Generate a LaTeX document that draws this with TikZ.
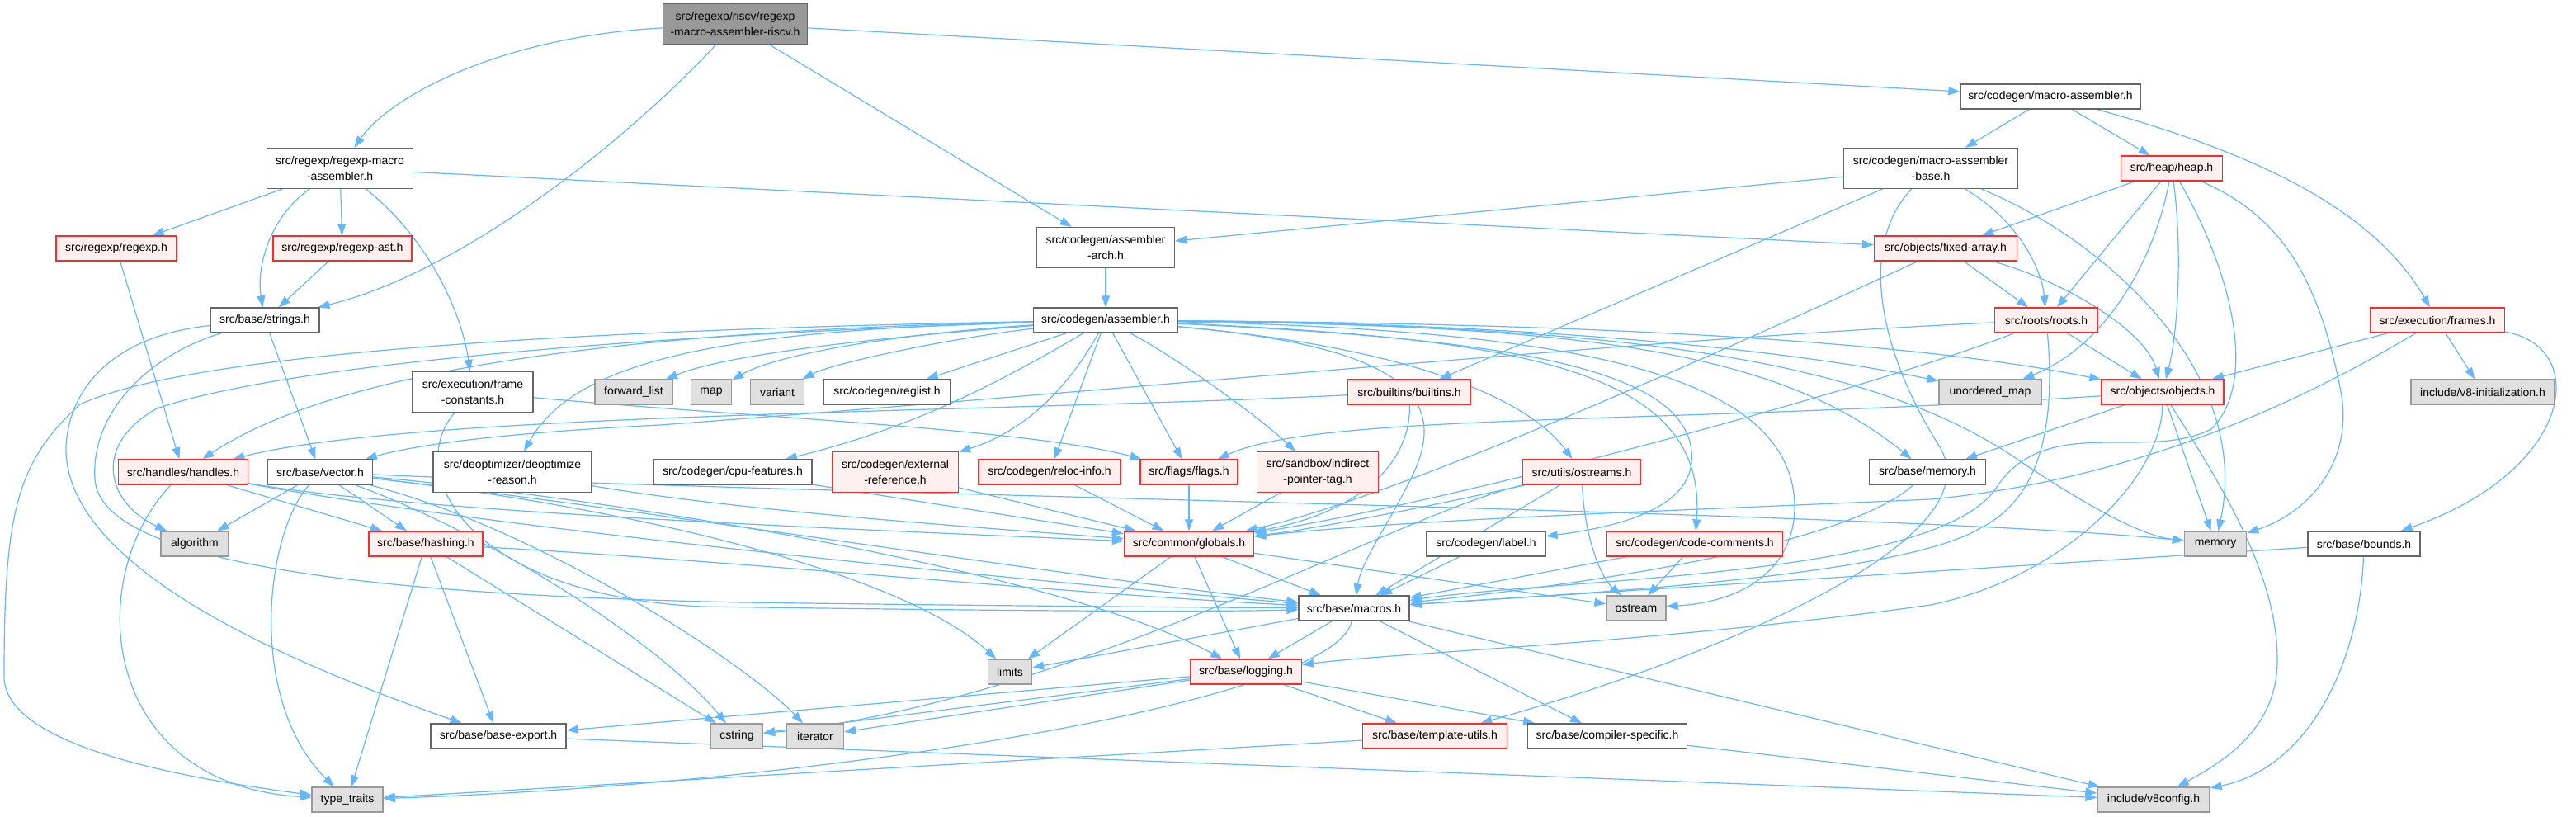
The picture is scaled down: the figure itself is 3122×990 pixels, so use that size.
\documentclass[tikz,border=0pt]{standalone}
\usepackage{fontspec}
\setmainfont{Liberation Sans}
\usetikzlibrary{arrows.meta}
\definecolor{edgeblue}{HTML}{63B8FF}
\definecolor{boxgray}{HTML}{666666}
\definecolor{redline}{HTML}{FF2A2A}
\definecolor{redfill}{HTML}{FFF0F0}
\definecolor{grayfill}{HTML}{E0E0E0}
\definecolor{grayline}{HTML}{999999}
\definecolor{maingray}{HTML}{999999}
\pgfdeclarelayer{bg}
\pgfsetlayers{bg,main}
\tikzset{
  nodebox/.style={line width=1.3pt, inner sep=0pt, align=center, minimum height=30pt,
    font={\fontsize{14}{19}\selectfont}},
  wbox/.style={nodebox, fill=white, draw=boxgray},
  rbox/.style={nodebox, fill=redfill, draw=redline},
  gbox/.style={nodebox, fill=grayfill, draw=grayline},
  tall/.style={minimum height=49pt},
  dep/.style={draw=edgeblue, line width=1.2pt, -{Triangle[length=14pt,width=10pt]}}
}
\begin{document}
\begin{tikzpicture}[x=1pt,y=-1pt]
\begin{pgfonlayer}{bg}
\fill[white] (0,0) rectangle (3122,990);
\end{pgfonlayer}
\useasboundingbox (0,0) rectangle (3122,990);

% nodes
\node[wbox,tall,fill=maingray,minimum width=175pt] (main) at (891,29) {src/regexp/riscv/regexp\\-macro-assembler-riscv.h};
\node[wbox,tall,minimum width=177pt] (rma) at (412,204) {src/regexp/regexp-macro\\-assembler.h};
\node[rbox,minimum width=146pt] (regexp) at (141,301) {src/regexp/regexp.h};
\node[rbox,minimum width=168pt] (rast) at (415,301) {src/regexp/regexp-ast.h};
\node[wbox,minimum width=132pt] (strings) at (321,388) {src/base/strings.h};
\node[wbox,tall,minimum width=146pt] (frameconst) at (573,475) {src/execution/frame\\-constants.h};
\node[gbox,minimum width=94pt] (fwdlist) at (768,475) {forward\_list};
\node[gbox,minimum width=49pt] (map) at (862,475) {map};
\node[gbox,minimum width=65pt] (variant) at (942,475) {variant};
\node[wbox,minimum width=153pt] (reglist) at (1075,475) {src/codegen/reglist.h};
\node[wbox,tall,minimum width=167pt] (asmarch) at (1340,300) {src/codegen/assembler\\-arch.h};
\node[wbox,minimum width=175pt] (asm) at (1340,388) {src/codegen/assembler.h};
\node[wbox,minimum width=218pt] (masm) at (2485,117) {src/codegen/macro-assembler.h};
\node[wbox,tall,minimum width=211pt] (masmbase) at (2340,204) {src/codegen/macro-assembler\\-base.h};
\node[rbox,minimum width=123pt] (heap) at (2632,204) {src/heap/heap.h};
\node[rbox,minimum width=173pt] (fixedarray) at (2358,301) {src/objects/fixed-array.h};
\node[rbox,minimum width=125pt] (roots) at (2480,388) {src/roots/roots.h};
\node[rbox,minimum width=163pt] (frames) at (2954,388) {src/execution/frames.h};
\node[rbox,minimum width=149pt] (builtins) at (1708,475) {src/builtins/builtins.h};
\node[gbox,minimum width=124pt] (umap) at (2412,475) {unordered\_map};
\node[rbox,minimum width=148pt] (objects) at (2621,475) {src/objects/objects.h};
\node[gbox,minimum width=174pt] (v8init) at (3009,475) {include/v8-initialization.h};
\node[rbox,minimum width=157pt] (handles) at (222,572) {src/handles/handles.h};
\node[wbox,minimum width=127pt] (vector) at (388,572) {src/base/vector.h};
\node[wbox,tall,minimum width=192pt] (deopt) at (621,572) {src/deoptimizer/deoptimize\\-reason.h};
\node[wbox,minimum width=192pt] (cpufeat) at (888,572) {src/codegen/cpu-features.h};
\node[rbox,tall,minimum width=153pt] (extref) at (1085,572) {src/codegen/external\\-reference.h};
\node[rbox,minimum width=172pt] (reloc) at (1272,572) {src/codegen/reloc-info.h};
\node[rbox,minimum width=118pt] (flags) at (1441,572) {src/flags/flags.h};
\node[rbox,tall,minimum width=147pt] (sandbox) at (1597,572) {src/sandbox/indirect\\-pointer-tag.h};
\node[rbox,minimum width=143pt] (ostreams) at (1917,572) {src/utils/ostreams.h};
\node[wbox,minimum width=141pt] (bmemory) at (2336,572) {src/base/memory.h};
\node[gbox,minimum width=82pt] (algorithm) at (236,659) {algorithm};
\node[rbox,minimum width=138pt] (hashing) at (516,659) {src/base/hashing.h};
\node[rbox,minimum width=157pt] (globals) at (1441,659) {src/common/globals.h};
\node[wbox,minimum width=144pt] (lbl) at (1801,659) {src/codegen/label.h};
\node[rbox,minimum width=213pt] (codecomments) at (2054,659) {src/codegen/code-comments.h};
\node[gbox,minimum width=75pt] (memory) at (2685,659) {memory};
\node[wbox,minimum width=136pt] (bounds) at (2865,659) {src/base/bounds.h};
\node[wbox,minimum width=134pt] (macros) at (1641,737) {src/base/macros.h};
\node[gbox,minimum width=72pt] (ostream) at (1983,737) {ostream};
\node[gbox,minimum width=53pt] (limits) at (1224,814) {limits};
\node[rbox,minimum width=135pt] (logging) at (1510,814) {src/base/logging.h};
\node[wbox,minimum width=164pt] (baseexport) at (604,892) {src/base/base-export.h};
\node[gbox,minimum width=63pt] (cstring) at (893,892) {cstring};
\node[gbox,minimum width=69pt] (iterator) at (988,892) {iterator};
\node[rbox,minimum width=175pt] (templateutils) at (1739,892) {src/base/template-utils.h};
\node[wbox,minimum width=193pt] (compspec) at (1948,892) {src/base/compiler-specific.h};
\node[gbox,minimum width=86pt] (typetraits) at (421,969) {type\_traits};
\node[gbox,minimum width=136pt] (v8config) at (2610,969) {include/v8config.h};

% edges
\begin{pgfonlayer}{bg}
\draw[dep] (main) .. controls (600,45) and (470,120) .. (rma);
\draw[dep] (main) .. controls (760,170) and (560,330) .. (strings);
\draw[dep] (main) -- (asmarch);
\draw[dep] (main) -- (masm);

\draw[dep] (rma) -- (regexp);
\draw[dep] (rma) .. controls (330,260) and (310,320) .. (strings);
\draw[dep] (rma) -- (rast);
\draw[dep] (rma) .. controls (520,290) and (560,380) .. (frameconst);
\draw[dep] (rma) -- (fixedarray);

\draw[dep] (regexp) -- (handles);
\draw[dep] (rast) -- (strings);

\draw[dep] (strings) -- (vector);
\draw[dep] (strings) .. controls (150,405) and (85,460) .. (80,540) .. controls (75,700) and (400,820) .. (baseexport);
\draw[dep] (strings) .. controls (180,430) and (110,500) .. (115,580) .. controls (120,690) and (500,722) .. (900,730) .. controls (1200,734) and (1450,736) .. (macros);

\draw[dep] (frameconst) .. controls (900,505) and (1250,520) .. (flags);
\draw[dep] (frameconst) .. controls (490,570) and (560,720) .. (850,735) .. controls (1200,740) and (1450,742) .. (macros);

\draw[dep] (asmarch) -- (asm);

\draw[dep] (asm) .. controls (1050,410) and (880,430) .. (fwdlist);
\draw[dep] (asm) .. controls (1080,405) and (940,430) .. (map);
\draw[dep] (asm) .. controls (1150,410) and (1010,440) .. (variant);
\draw[dep] (asm) -- (reglist);
\draw[dep] (asm) .. controls (800,405) and (350,440) .. (190,495) .. controls (110,540) and (130,610) .. (algorithm);
\draw[dep] (asm) .. controls (800,398) and (250,420) .. (97,490) .. controls (20,560) and (5,620) .. (5,820) .. controls (5,900) and (200,940) .. (typetraits);
\draw[dep] (asm) .. controls (800,400) and (420,440) .. (handles);
\draw[dep] (asm) .. controls (900,400) and (700,430) .. (deopt);
\draw[dep] (asm) .. controls (1200,470) and (1100,520) .. (cpufeat);
\draw[dep] (asm) .. controls (1300,460) and (1250,520) .. (extref);
\draw[dep] (asm) -- (reloc);
\draw[dep] (asm) -- (flags);
\draw[dep] (asm) .. controls (1420,430) and (1520,500) .. (sandbox);
\draw[dep] (asm) .. controls (1700,420) and (1850,480) .. (ostreams);
\draw[dep] (asm) .. controls (1800,410) and (2060,440) .. (2050,560) .. controls (2045,620) and (1950,640) .. (lbl);
\draw[dep] (asm) .. controls (1850,410) and (2070,450) .. (codecomments);
\draw[dep] (asm) .. controls (1700,420) and (1760,480) .. (1710,580) .. controls (1680,640) and (1650,680) .. (macros);
\draw[dep] (asm) .. controls (1900,400) and (2180,450) .. (2175,620) .. controls (2170,700) and (2100,730) .. (ostream);
\draw[dep] (asm) .. controls (1900,395) and (2250,420) .. (2450,560) .. controls (2540,620) and (2600,650) .. (memory);
\draw[dep] (asm) .. controls (1900,395) and (2150,420) .. (bmemory);
\draw[dep] (asm) .. controls (1900,392) and (2300,410) .. (objects);
\draw[dep] (asm) .. controls (1900,392) and (2200,430) .. (umap);

\draw[dep] (masm) -- (masmbase);
\draw[dep] (masm) -- (heap);
\draw[dep] (masm) .. controls (2750,190) and (2880,260) .. (frames);

\draw[dep] (masmbase) -- (asmarch);
\draw[dep] (masmbase) -- (builtins);
\draw[dep] (masmbase) .. controls (2450,270) and (2475,330) .. (roots);
\draw[dep] (masmbase) .. controls (2550,290) and (2730,450) .. (memory);
\draw[dep] (masmbase) .. controls (2250,300) and (2280,430) .. (2350,540) .. controls (2420,650) and (2100,790) .. (templateutils);

\draw[dep] (heap) -- (fixedarray);
\draw[dep] (heap) -- (roots);
\draw[dep] (heap) .. controls (2610,320) and (2550,420) .. (umap);
\draw[dep] (heap) .. controls (2645,300) and (2640,400) .. (objects);
\draw[dep] (heap) .. controls (2760,260) and (2810,330) .. (2838,480) .. controls (2850,560) and (2800,620) .. (memory);
\draw[dep] (heap) .. controls (2700,320) and (2740,460) .. (2680,520) .. controls (2600,560) and (2480,500) .. (2420,590) .. controls (2350,700) and (1900,700) .. (macros);

\draw[dep] (fixedarray) -- (roots);
\draw[dep] (fixedarray) .. controls (2500,340) and (2600,400) .. (objects);
\draw[dep] (fixedarray) .. controls (2100,420) and (1700,600) .. (globals);

\draw[dep] (roots) -- (objects);
\draw[dep] (roots) .. controls (2000,410) and (1400,470) .. (800,515) .. controls (600,525) and (500,540) .. (vector);
\draw[dep] (roots) .. controls (2300,460) and (1800,600) .. (globals);
\draw[dep] (roots) .. controls (2490,500) and (2480,600) .. (2400,640) .. controls (2300,700) and (1900,720) .. (macros);

\draw[dep] (frames) -- (objects);
\draw[dep] (frames) -- (v8init);
\draw[dep] (frames) .. controls (3140,420) and (3120,570) .. (bounds);
\draw[dep] (frames) .. controls (2800,480) and (2600,580) .. (2340,605) .. controls (2000,620) and (1700,630) .. (globals);

\draw[dep] (objects) .. controls (2000,515) and (1600,500) .. (flags);
\draw[dep] (objects) -- (bmemory);
\draw[dep] (objects) -- (memory);
\draw[dep] (objects) .. controls (2620,580) and (2500,700) .. (2340,733) .. controls (2000,780) and (1700,790) .. (logging);
\draw[dep] (objects) .. controls (2700,600) and (2760,700) .. (2760,800) .. controls (2760,880) and (2700,920) .. (v8config);

\draw[dep] (builtins) .. controls (1200,500) and (500,500) .. (handles);
\draw[dep] (builtins) .. controls (1710,560) and (1650,620) .. (globals);

\draw[dep] (handles) .. controls (100,700) and (120,950) .. (typetraits);
\draw[dep] (handles) -- (hashing);
\draw[dep] (handles) .. controls (500,620) and (1000,640) .. (globals);
\draw[dep] (handles) .. controls (600,640) and (1200,700) .. (macros);

\draw[dep] (vector) -- (algorithm);
\draw[dep] (vector) .. controls (320,650) and (300,850) .. (typetraits);
\draw[dep] (vector) -- (hashing);
\draw[dep] (vector) .. controls (600,650) and (800,780) .. (cstring);
\draw[dep] (vector) .. controls (650,640) and (900,800) .. (iterator);
\draw[dep] (vector) .. controls (800,620) and (1100,700) .. (limits);
\draw[dep] (vector) .. controls (1000,600) and (2300,620) .. (memory);
\draw[dep] (vector) .. controls (800,610) and (1300,700) .. (logging);
\draw[dep] (vector) .. controls (800,620) and (1300,700) .. (macros);

\draw[dep] (deopt) .. controls (900,620) and (1200,640) .. (globals);
\draw[dep] (cpufeat) -- (globals);
\draw[dep] (extref) -- (globals);
\draw[dep] (reloc) -- (globals);
\draw[dep] (flags) -- (globals);
\draw[dep] (sandbox) -- (globals);

\draw[dep] (ostreams) .. controls (1750,610) and (1600,640) .. (globals);
\draw[dep] (ostreams) -- (macros);
\draw[dep] (ostreams) .. controls (1920,650) and (1940,700) .. (ostream);
\draw[dep] (ostreams) .. controls (1700,620) and (1300,850) .. (cstring);

\draw[dep] (hashing) -- (typetraits);
\draw[dep] (hashing) -- (baseexport);
\draw[dep] (hashing) -- (cstring);
\draw[dep] (hashing) .. controls (900,680) and (1300,720) .. (macros);

\draw[dep] (globals) -- (limits);
\draw[dep] (globals) -- (logging);
\draw[dep] (globals) -- (macros);
\draw[dep] (globals) -- (ostream);

\draw[dep] (lbl) -- (macros);
\draw[dep] (codecomments) -- (macros);
\draw[dep] (codecomments) -- (ostream);
\draw[dep] (bmemory) .. controls (2250,650) and (2000,700) .. (macros);
\draw[dep] (bounds) -- (macros);
\draw[dep] (bounds) .. controls (2860,800) and (2800,930) .. (v8config);

\draw[dep] (macros) -- (limits);
\draw[dep] (macros) -- (logging);
\draw[dep] (macros) .. controls (1620,850) and (1000,950) .. (typetraits);
\draw[dep] (macros) -- (compspec);
\draw[dep] (macros) -- (v8config);

\draw[dep] (logging) -- (cstring);
\draw[dep] (logging) -- (iterator);
\draw[dep] (logging) -- (baseexport);
\draw[dep] (logging) -- (templateutils);
\draw[dep] (logging) -- (compspec);

\draw[dep] (templateutils) -- (typetraits);
\draw[dep] (compspec) -- (v8config);
\draw[dep] (baseexport) -- (v8config);
\end{pgfonlayer}
\end{tikzpicture}
\end{document}
